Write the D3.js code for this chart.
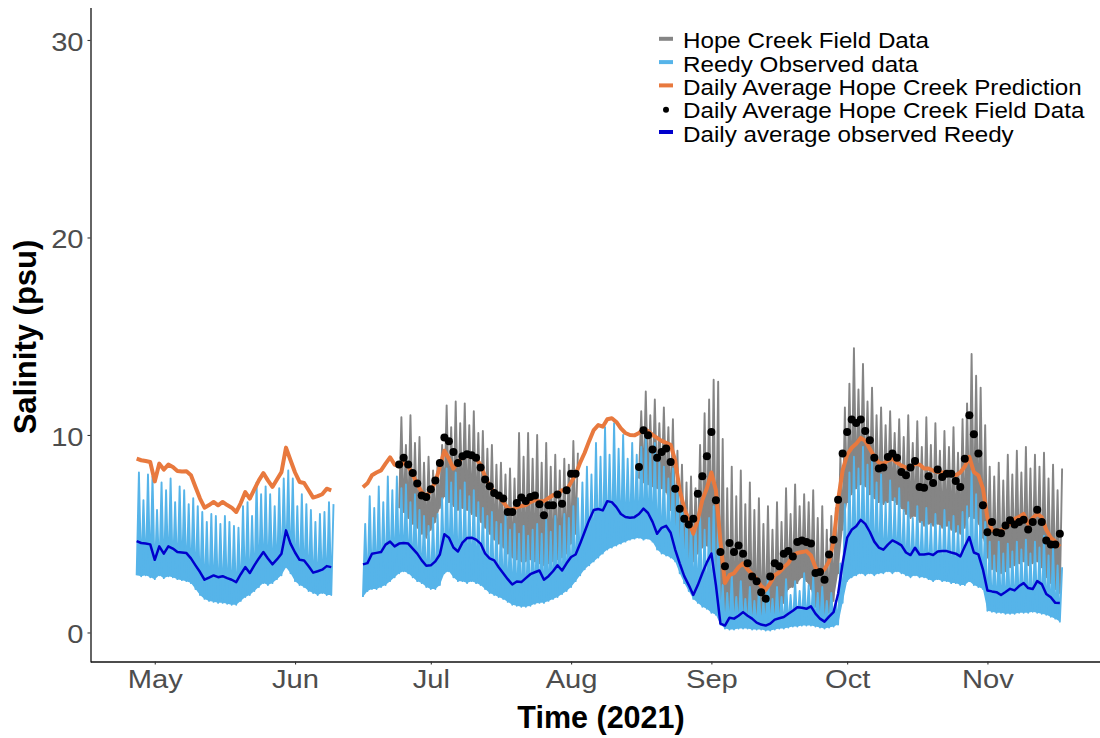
<!DOCTYPE html>
<html><head><meta charset="utf-8">
<script src="https://cdn.jsdelivr.net/npm/d3@7"></script>
<style>
body{margin:0;background:#fff}
svg{display:block}
text{font-family:"Liberation Sans",Arial,Helvetica,sans-serif}
</style>
</head><body>
<svg id="chart" width="1100" height="738"></svg>
<script>
// ---------------- DATA ----------------
const monthTicks = ["2021-05-01","2021-06-01","2021-07-01","2021-08-01","2021-09-01","2021-10-01","2021-11-01"];
const yTicks = [0, 10, 20, 30];
const legendLabels = ["Hope Creek Field Data","Reedy Observed data","Daily Average Hope Creek Prediction","Daily Average Hope Creek Field Data","Daily average observed Reedy"];

// Reedy observed (tidal) : daily low / high, two segments
const reedyStart1 = "2021-04-27";
const reedyLow1 = [2.9,2.85,2.9,2.8,2.7,2.9,2.75,2.85,2.8,2.7,
 2.65,2.6,2.5,2.2,1.9,1.7,1.6,1.55,1.5,1.5,
 1.45,1.4,1.4,1.6,1.8,1.9,2.1,2.3,2.5,2.4,
 2.5,2.7,2.9,3.3,3.0,2.6,2.4,2.3,2.1,2.0,
 1.9,2.0,1.9,1.9];
const reedyHigh1 = [8.1,6.7,8.0,7.9,6.2,7.6,7.2,7.8,6.6,7.4,
 7.2,6.5,6.8,6.4,6.1,5.6,6.0,5.9,5.5,5.9,
 5.6,5.4,5.3,6.4,6.6,5.9,7.6,7.0,7.4,7.0,
 6.4,7.3,7.8,8.2,7.8,6.4,7.0,6.5,6.2,5.6,
 6.0,6.1,6.6,6.5];
const reedyStart2 = "2021-06-16";
const reedyLow2 = [1.8,2.1,2.2,2.2,2.3,2.4,2.6,2.8,3.0,3.1,
 3.0,2.8,2.6,2.5,2.3,2.2,2.2,2.4,3.0,3.1,
 2.8,2.6,2.6,2.5,2.6,2.5,2.4,2.2,2.0,1.9,
 1.8,1.7,1.55,1.4,1.35,1.3,1.3,1.35,1.45,1.5,
 1.5,1.6,1.7,1.8,1.95,2.1,2.3,2.6,2.9,3.2,
 3.4,3.6,3.8,4.0,4.2,4.3,4.4,4.5,4.6,4.7,
 4.75,4.8,4.7,4.75,4.6,4.2,4.0,3.9,3.8,3.6,
 3.0,2.5,2.1,1.7,1.5,1.3,1.2,1.0,0.9,0.4,
 0.2,0.15,0.15,0.2,0.2,0.2,0.15,0.15,0.15,0.1,
 0.1,0.15,0.2,0.2,0.25,0.3,0.3,0.35,0.35,0.35,
 0.3,0.25,0.2,0.25,0.3,0.4,1.5,2.6,2.8,2.9,
 3.0,2.9,3.0,2.9,3.0,3.0,3.1,3.0,3.1,3.0,
 2.9,2.8,2.9,2.8,2.8,2.7,2.6,2.7,2.6,2.6,
 2.5,2.5,2.4,2.4,2.6,2.4,2.3,2.2,1.1,1.05,
 1.0,1.0,0.95,0.95,0.95,1.0,1.0,1.0,1.05,1.0,
 0.95,0.9,0.8,0.7,0.55];
const reedyHigh2 = [5.5,6.9,6.3,7.4,6.6,7.9,7.2,7.9,7.3,7.5,
 6.6,7.0,6.2,5.9,5.4,5.8,6.0,6.8,8.3,7.6,
 8.1,7.2,7.6,6.9,7.2,6.6,6.3,5.9,6.1,5.6,
 5.5,5.9,5.2,5.5,5.0,5.4,4.9,5.2,5.5,5.0,
 5.7,5.1,5.9,5.4,6.0,5.8,6.4,6.8,7.6,8.4,
 8.0,9.6,8.9,10.4,9.0,10.6,9.3,10.0,8.8,9.6,
 9.0,9.4,9.9,9.2,9.6,8.6,8.4,7.8,8.3,7.5,
 6.9,6.2,5.7,5.4,5.9,5.2,5.8,6.4,5.6,2.4,
 2.0,2.9,1.8,2.6,1.7,2.3,1.6,2.1,1.6,2.9,
 1.7,2.3,1.8,2.7,1.9,2.6,2.1,3.0,2.4,2.8,
 2.0,2.3,1.6,2.0,1.6,3.5,6.5,8.1,8.9,8.3,
 9.4,8.5,8.8,7.6,8.0,6.6,7.7,6.8,7.3,6.2,
 6.6,5.8,6.4,5.6,6.3,5.5,6.0,5.4,6.2,5.6,
 5.9,5.4,6.1,6.4,8.2,7.0,6.3,5.6,4.6,3.9,
 4.6,4.0,4.5,4.1,4.6,4.2,4.7,4.0,4.6,4.3,
 4.9,3.9,4.3,3.4,3.3];

// Hope Creek field data (tidal) : daily low / high, two segments
const hopeStartA = "2021-06-24";
const hopeLowA = [6.3,6.1,5.8,5.5,5.3,5.0,4.8,5.2,5.6,6.3,
 6.9,6.6,6.4,6.2,6.3,6.2,6.0,5.9,5.6,5.3,
 5.0,4.7,4.5,4.3,4.0,3.8,3.7,3.6,3.6,3.7,
 3.6,3.5,3.4,3.5,3.6,3.7,3.8,4.0,4.5,5.0];
const hopeHighA = [10.9,9.5,11.0,9.6,9.9,8.6,8.9,8.2,8.6,9.5,
 11.5,10.4,11.7,10.6,11.6,10.5,11.2,10.1,10.2,9.3,
 9.5,8.5,8.6,8.0,8.3,7.8,10.1,8.9,10.1,8.8,
 10.0,8.6,9.6,8.4,9.0,8.2,8.8,8.5,9.7,9.1];
const hopeStartB = "2021-08-16";
const hopeLowB = [7.8,7.6,7.5,7.4,7.3,7.3,7.1,6.2,5.0,4.2,
 3.6,3.5,3.6,4.0,4.3,4.4,4.0,3.0,0.9,0.5,
 0.6,0.7,0.8,0.7,0.7,0.6,0.6,0.5,0.5,0.7,
 0.8,1.0,1.5,2.2,2.3,2.5,2.8,2.6,2.2,1.3,
 0.9,0.8,1.0,1.6,3.0,5.2,6.6,7.0,7.3,7.5,
 7.4,7.0,6.8,6.6,6.5,6.6,6.7,6.5,6.3,6.0,
 5.8,5.9,5.6,5.4,5.5,5.4,5.5,5.3,5.4,5.2,
 5.1,5.0,5.3,5.9,5.8,5.5,4.8,3.8,3.2,3.1,
 3.0,3.1,3.3,3.4,3.5,3.6,3.4,3.5,3.6,3.3,
 2.8,2.5,2.2,2.0];
const hopeHighB = [11.2,12.2,11.0,11.8,10.6,11.4,10.4,10.8,9.2,8.5,
 7.6,7.9,7.3,9.5,11.1,11.8,12.8,12.7,9.8,7.3,
 8.4,6.9,8.2,6.5,7.6,6.2,6.8,5.5,6.4,5.2,
 6.6,5.6,7.3,6.0,7.5,6.4,7.0,6.6,7.2,5.8,
 6.4,5.2,5.9,6.3,9.0,11.4,12.6,14.4,12.3,13.6,
 11.7,12.4,11.0,11.4,10.5,11.2,10.1,10.8,9.9,11.0,
 9.6,10.7,9.4,10.9,9.5,10.6,9.2,10.2,9.4,10.4,
 9.1,10.8,11.6,14.1,13.0,12.4,10.5,8.4,7.9,8.6,
 7.7,9.0,8.0,9.2,8.1,9.4,8.3,9.0,8.4,9.1,
 7.8,8.5,7.2,8.3];

// Daily average Hope Creek prediction
const predStart1 = "2021-04-27";
const pred1 = [8.80,8.72,8.68,8.63,7.65,8.55,8.25,8.50,8.38,8.18,
 8.15,8.16,7.96,7.37,6.78,6.32,6.45,6.61,6.44,6.61,
 6.45,6.32,6.10,6.55,7.11,6.78,7.25,7.70,8.07,7.70,
 7.37,7.75,8.12,9.36,8.72,8.10,7.62,7.57,7.20,6.83,
 6.90,7.00,7.28,7.20];
const predStart2 = "2021-06-16";
const pred2 = [7.35,7.55,7.96,8.10,8.21,8.55,8.87,8.50,8.41,8.60,
 8.40,8.00,7.50,7.10,6.90,7.20,7.60,8.40,9.20,8.80,
 8.30,8.60,8.90,8.95,8.90,8.80,8.50,7.90,7.40,7.10,
 6.90,6.60,6.30,6.20,6.35,6.40,6.45,6.60,6.70,6.65,
 6.65,6.80,6.95,7.00,7.20,7.20,7.60,8.00,8.60,9.10,
 9.70,10.25,10.50,10.42,10.80,10.85,10.66,10.33,10.10,10.00,
 9.98,10.10,10.30,10.20,10.00,9.85,9.70,9.60,9.50,8.70,
 7.20,6.30,5.70,5.00,5.70,6.70,7.30,8.10,7.20,4.60,
 2.50,2.90,3.00,3.30,3.50,3.20,2.95,2.70,2.35,2.15,
 2.50,2.90,3.05,3.30,3.50,3.90,4.03,4.07,4.12,3.90,
 3.30,3.00,3.20,3.60,4.60,6.70,8.20,9.00,9.35,9.55,
 9.85,9.70,9.30,8.90,8.60,8.55,8.70,8.80,8.60,8.45,
 8.35,8.30,8.55,8.50,8.30,8.30,8.20,8.12,8.10,8.12,
 8.05,7.96,8.10,8.40,8.89,8.12,7.96,7.30,5.80,5.17,
 5.15,5.17,5.35,5.50,5.75,5.85,6.00,5.50,5.80,6.00,
 5.84,5.20,4.80,4.60,4.35];

// Daily average Hope Creek field data (points)
const dotStartA = "2021-06-24";
const dotsA = [8.51,8.85,8.51,8.07,7.54,6.94,6.86,7.25,7.70,8.58,
 9.87,9.68,9.14,8.58,8.92,9.02,8.97,8.85,8.35,7.74,
 7.40,7.06,6.94,6.78,6.10,6.10,6.55,6.83,6.66,6.86,
 6.94,6.49,5.93,6.44,6.44,6.99,6.52,7.20,8.04,8.04];
const dotStartB = "2021-08-16";
const dotsB = [8.38,10.24,9.98,9.26,8.85,9.14,9.31,8.63,7.28,6.27,
 5.76,5.47,5.76,7.03,7.91,8.92,10.15,6.69,4.07,3.35,
 4.53,4.07,4.41,3.99,3.51,2.84,2.60,2.04,1.71,2.84,
 3.51,3.35,3.99,4.12,3.85,4.58,4.66,4.58,4.50,3.01,
 3.06,2.67,3.95,4.70,6.72,9.06,10.15,10.78,10.61,10.78,
 10.20,9.73,8.85,8.30,8.35,8.89,9.06,8.85,8.12,7.96,
 8.35,8.68,7.37,7.33,7.91,7.57,8.25,7.87,8.04,8.04,
 7.67,7.37,8.80,11.0,10.04,9.06,6.44,5.08,5.59,5.08,
 5.03,5.42,5.68,5.47,5.59,5.71,5.21,5.59,6.22,5.59,
 4.66,4.46,4.46,5.0];

// Daily average observed Reedy
const reedyAvgStart1 = "2021-04-27";
const reedyAvg1 = [4.63,4.53,4.50,4.46,3.68,4.36,3.99,4.36,4.25,4.07,
 4.05,4.02,3.75,3.40,3.06,2.67,2.78,2.89,2.80,2.85,
 2.75,2.67,2.55,2.95,3.31,3.01,3.40,3.75,4.07,3.75,
 3.45,3.70,3.99,5.17,4.50,4.05,3.68,3.65,3.35,3.03,
 3.10,3.18,3.36,3.31];
const reedyAvgStart2 = "2021-06-16";
const reedyAvg2 = [3.45,3.51,3.99,4.03,4.07,4.45,4.60,4.36,4.50,4.53,
 4.50,4.25,3.99,3.65,3.38,3.40,3.60,3.95,4.97,4.80,
 4.30,4.10,4.55,4.78,4.80,4.70,4.50,4.00,3.75,3.65,
 3.30,3.00,2.70,2.43,2.58,2.55,2.75,2.95,3.05,3.14,
 2.67,2.85,3.10,3.40,3.14,3.50,3.82,3.95,4.50,5.10,
 5.70,6.20,6.25,6.18,6.65,6.60,6.35,6.00,5.85,5.81,
 5.84,6.00,6.27,6.05,5.60,5.00,5.30,5.40,5.05,4.20,
 3.50,2.85,2.40,1.90,2.40,3.00,3.55,4.00,2.40,0.45,
 0.35,0.75,0.70,0.85,1.03,0.85,0.70,0.50,0.40,0.35,
 0.45,0.65,0.72,0.78,0.95,1.10,1.28,1.25,1.20,1.32,
 0.95,0.70,0.55,0.80,1.03,1.96,3.50,4.80,5.20,5.38,
 5.70,5.50,5.10,4.60,4.30,4.19,4.45,4.66,4.55,4.41,
 4.05,3.92,4.29,3.95,3.95,3.99,3.92,4.10,4.12,4.12,
 4.05,3.99,3.85,4.35,4.83,4.05,3.95,3.20,2.13,2.08,
 2.04,1.90,2.05,2.21,2.13,2.35,2.50,2.25,2.20,2.60,
 2.45,1.95,1.78,1.50,1.49];

// ---------------- CHART ----------------
const colGray = "#858585", colLight = "#56B4E9", colOrange = "#E8793E", colBlue = "#0000CD";
const parse = d3.timeParse("%Y-%m-%d");
const DAY = 864e5;
const addDays = (d, n) => new Date(+d + n * DAY);
const may1 = parse("2021-05-01");

const svg = d3.select("#chart");
const x = d3.scaleTime()
  .domain([addDays(may1, -14.2), addDays(may1, 210.2)])
  .range([90.5, 1106]);
const y = d3.scaleLinear().domain([-1.5, 31.65]).range([662.1, 7.4]);

svg.append("defs").append("clipPath").attr("id", "clip")
  .append("rect").attr("x", 91).attr("y", 0).attr("width", 1015).attr("height", 661);

const plot = svg.append("g").attr("clip-path", "url(#clip)");
const line = d3.line().x(d => x(d.t)).y(d => y(d.v));

function daily(start, vals) {
  const s = parse(start);
  return vals.map((v, i) => ({ t: addDays(s, i), v }));
}
// zig-zag of the tidal record: low at the day, high half a day later
function tidal(start, lows, highs) {
  const s = parse(start);
  const pts = [];
  lows.forEach((lo, i) => {
    pts.push({ t: addDays(s, i), v: lo });
    pts.push({ t: addDays(s, i + 0.5), v: highs[i] });
  });
  return pts;
}
// fill of each tidal cycle (low -> high -> next low)
function tidalFill(start, lows, highs) {
  const s = parse(start);
  let p = "";
  for (let i = 0; i < lows.length - 1; i++) {
    p += "M" + x(addDays(s, i)) + "," + y(lows[i]) +
         "L" + x(addDays(s, i + 0.5)) + "," + y(highs[i]) +
         "L" + x(addDays(s, i + 1)) + "," + y(lows[i + 1]) + "Z";
  }
  return p;
}
function drawTidal(start, lows, highs, color) {
  plot.append("path").attr("d", tidalFill(start, lows, highs))
    .attr("fill", color).attr("stroke", "none");
  plot.append("path").datum(tidal(start, lows, highs))
    .attr("d", line).attr("fill", "none")
    .attr("stroke", color).attr("stroke-width", 1.9)
    .attr("stroke-linejoin", "round");
}
function drawLine(data, color, width) {
  plot.append("path").datum(data)
    .attr("d", line).attr("fill", "none")
    .attr("stroke", color).attr("stroke-width", width)
    .attr("stroke-linejoin", "round");
}

// Hope Creek field data
drawTidal(hopeStartA, hopeLowA, hopeHighA, colGray);
drawTidal(hopeStartB, hopeLowB, hopeHighB, colGray);
// Reedy observed
drawTidal(reedyStart1, reedyLow1, reedyHigh1, colLight);
drawTidal(reedyStart2, reedyLow2, reedyHigh2, colLight);
// Prediction
drawLine(daily(predStart1, pred1), colOrange, 4);
drawLine(daily(predStart2, pred2), colOrange, 4);
// Daily avg field points
plot.append("g").selectAll("circle")
  .data(daily(dotStartA, dotsA).concat(daily(dotStartB, dotsB)))
  .join("circle")
  .attr("cx", d => x(d.t)).attr("cy", d => y(d.v)).attr("r", 4).attr("fill", "#000");
// Daily avg Reedy
drawLine(daily(reedyAvgStart1, reedyAvg1), colBlue, 2.5);
drawLine(daily(reedyAvgStart2, reedyAvg2), colBlue, 2.5);

// Axes
const xAxis = d3.axisBottom(x)
  .tickValues(monthTicks.map(parse))
  .tickFormat(d3.timeFormat("%b"))
  .tickSizeInner(3).tickSizeOuter(0);
const gx = svg.append("g").attr("transform", "translate(0,661.5)").call(xAxis);
gx.select(".domain").attr("stroke", "#111").attr("stroke-width", 1.3);
gx.selectAll(".tick line").attr("stroke", "#333").attr("stroke-width", 1.1);
gx.selectAll(".tick text")
  .attr("y", 26.5).attr("dy", 0)
  .attr("transform", "scale(1.1,1)")
  .attr("fill", "#4D4D4D").style("font-size", "26.5px");

const yAxis = d3.axisLeft(y).tickValues(yTicks).tickSizeInner(3).tickSizeOuter(0);
const gy = svg.append("g").attr("transform", "translate(90.5,0)").call(yAxis);
gy.select(".domain").attr("stroke", "#111").attr("stroke-width", 1.3);
gy.selectAll(".tick line").attr("stroke", "#333").attr("stroke-width", 1.1);
gy.selectAll(".tick text")
  .attr("x", -6.3).attr("y", 10.5).attr("dy", 0)
  .attr("transform", "scale(1.1,1)")
  .attr("fill", "#4D4D4D").style("font-size", "26.5px");

// Axis titles
svg.append("text").attr("x", 601).attr("y", 728)
  .attr("text-anchor", "middle").style("font-size", "30.5px").style("font-weight", "bold")
  .attr("fill", "#000").text("Time (2021)");
svg.append("text").attr("transform", "translate(36,337) rotate(-90)")
  .attr("text-anchor", "middle").style("font-size", "31px").style("font-weight", "bold")
  .attr("fill", "#000").text("Salinity (psu)");

// Legend
const legendKeys = [
  { type: "line", color: colGray },
  { type: "line", color: colLight },
  { type: "line", color: colOrange },
  { type: "dot", color: "#000" },
  { type: "line", color: colBlue }
];
const lg = svg.append("g");
legendLabels.forEach((lab, i) => {
  const base = 48.3 + i * 23.3;
  const k = legendKeys[i];
  if (k.type === "line") {
    lg.append("line").attr("x1", 659).attr("x2", 673)
      .attr("y1", base - 9.5).attr("y2", base - 9.5)
      .attr("stroke", k.color).attr("stroke-width", 4);
  } else {
    lg.append("circle").attr("cx", 666).attr("cy", base - 8.5).attr("r", 3).attr("fill", k.color);
  }
  lg.append("text").attr("transform", `translate(683,${base}) scale(1.1,1)`)
    .style("font-size", "22px").attr("fill", "#000").text(lab);
});
</script>
</body></html>
